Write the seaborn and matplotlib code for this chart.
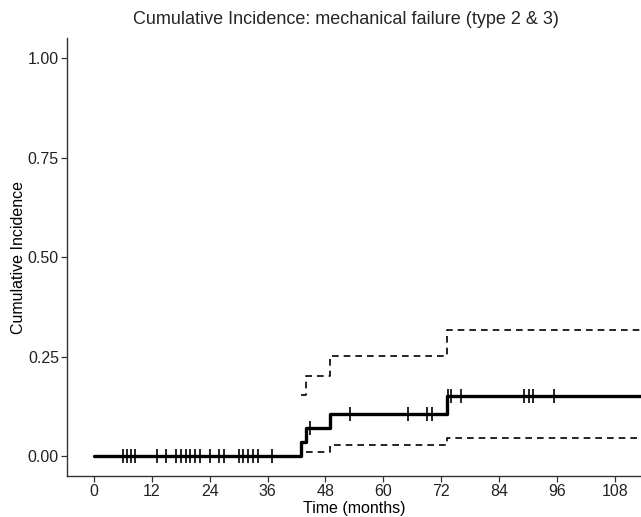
import numpy as np
import pandas as pd
import matplotlib
matplotlib.use("Agg")
import matplotlib.pyplot as plt
import seaborn as sns

# estimativa de incidencia cumulativa (funcao escada)
step_time = [0, 42.9, 44.0, 49.0, 73.1, 116]
cif = [0, 0.0345, 0.0714, 0.106, 0.151, 0.151]

# intervalo de confianca
upper_time = [42.9, 44.0, 49.0, 73.1, 116]
upper_ci = [0.154, 0.202, 0.252, 0.318, 0.318]
lower_time = [44.0, 49.0, 73.1, 116]
lower_ci = [0.011, 0.027, 0.0446, 0.0446]

# tempos censurados
censor_time = [6.1, 6.9, 7.7, 8.6, 13.1, 15.0, 17.1, 18.1, 19.0, 20.0, 21.0,
               22.0, 24.0, 26.0, 26.9, 30.0, 30.9, 31.9, 33.0, 34.0, 36.9,
               44.9, 53.1, 65.2, 69.1, 70.0, 73.4, 74.1, 76.1, 89.1, 90.2,
               91.1, 95.3]

x_ticks = [0, 12, 24, 36, 48, 60, 72, 84, 96, 108]
y_ticks = [0.00, 0.25, 0.50, 0.75, 1.00]

df = pd.DataFrame({"time": step_time, "cif": cif})
df_up = pd.DataFrame({"time": upper_time, "ci": upper_ci})
df_lo = pd.DataFrame({"time": lower_time, "ci": lower_ci})
idx = np.searchsorted(step_time, censor_time, side="right") - 1
df_cens = pd.DataFrame({"time": censor_time, "cif": np.array(cif)[idx]})

sns.set_theme(style="ticks")
plt.rcParams["font.family"] = ["Liberation Sans", "DejaVu Sans"]

fig = plt.figure(figsize=(6.41, 5.17), dpi=100)
ax = fig.add_axes([0.105, 0.0793, 0.895, 0.8467])

sns.lineplot(data=df_up, x="time", y="ci", drawstyle="steps-post",
             color="black", linewidth=1.2, linestyle=(0, (4, 3)), ax=ax)
sns.lineplot(data=df_lo, x="time", y="ci", drawstyle="steps-post",
             color="black", linewidth=1.2, linestyle=(0, (4, 3)), ax=ax)
sns.lineplot(data=df, x="time", y="cif", drawstyle="steps-post",
             color="black", linewidth=2.4, ax=ax)
sns.scatterplot(data=df_cens, x="time", y="cif", marker="|", s=110,
                color="black", linewidth=1.2, ax=ax, zorder=5)

ax.set_xlim(-5.5, 113.4)
ax.set_ylim(-0.05, 1.05)
ax.set_xticks(x_ticks)
ax.set_yticks(y_ticks)
ax.set_yticklabels([f"{v:.2f}" for v in y_ticks])
ax.set_xlabel("Time (months)", fontsize=11.5, color="black", labelpad=1)
ax.set_ylabel("Cumulative Incidence", fontsize=11.5, color="black", labelpad=1)
ax.tick_params(labelsize=11.5, labelcolor="#222222", color="#333333",
               length=4, width=0.9, pad=2)
sns.despine(ax=ax)
for s in ["left", "bottom"]:
    ax.spines[s].set_color("#333333")
    ax.spines[s].set_linewidth(1.0)

fig.text(0.54, 0.962, "Cumulative Incidence: mechanical failure (type 2 & 3)",
         ha="center", va="center", fontsize=13)

fig.savefig("out.png", dpi=100)
